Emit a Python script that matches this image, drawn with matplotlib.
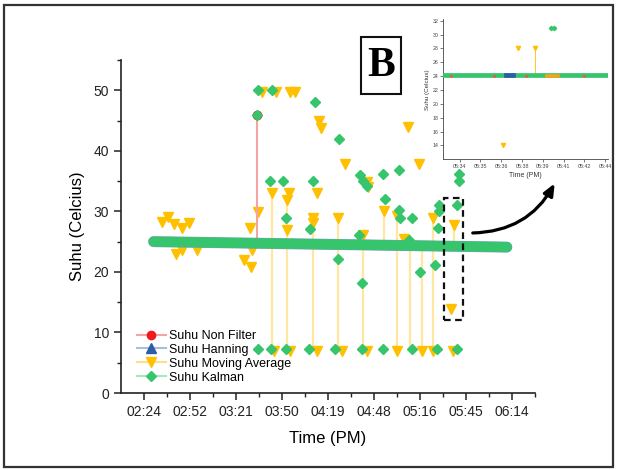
import matplotlib
matplotlib.use('Agg')
import matplotlib.pyplot as plt
from matplotlib.lines import Line2D
from matplotlib.patches import Rectangle

plt.rcParams['font.family'] = ['Liberation Sans', 'DejaVu Sans']

# time in hours (PM), temperature in Celcius
tick_pos = [2.40, 2.88, 3.36, 3.84, 4.32, 4.80, 5.28, 5.76, 6.24]
tick_lab = ['02:24', '02:52', '03:21', '03:50', '04:19', '04:48', '05:16', '05:45', '06:14']

# dense band (all filters overlap here)
band_x = [2.50, 6.185]
band_y = [25.0, 24.1]

# Suhu Non Filter spike
nf_x = [3.576]
nf_y = [45.9]

# Suhu Moving Average outliers
ma_x = [2.591, 2.654, 2.713, 2.800, 2.873, 2.731, 2.797, 2.950, 3.447, 3.513, 3.506, 3.593,
        3.524, 3.628, 3.777, 3.920, 3.970, 4.226, 4.247, 4.497, 3.733, 3.916, 3.889, 4.202,
        3.889, 4.167, 4.160, 4.428, 5.158, 5.273, 4.724, 4.741, 4.907, 5.043, 5.419, 5.638,
        4.682, 5.116, 5.604,
        3.757, 3.924, 4.208, 4.462, 4.723, 5.036, 5.297, 5.419, 5.627]
ma_y = [28.2, 29.1, 27.9, 27.3, 28.0, 22.9, 23.7, 23.7, 21.9, 20.8, 27.2, 29.9,
        23.6, 49.8, 49.8, 49.8, 49.8, 45.0, 43.8, 37.9, 33.0, 33.0, 31.8, 33.0,
        26.9, 28.9, 28.1, 28.9, 43.9, 37.9, 34.9, 34.0, 30.1, 29.2, 28.9, 27.8,
        26.1, 25.4, 13.8,
        7.0, 7.0, 7.0, 7.0, 7.0, 7.0, 7.0, 7.0, 7.0]

# vertical connecting lines of the moving average series
spike_x = [3.733, 3.889, 4.167, 4.428, 4.682, 4.907, 5.043, 5.171, 5.297, 5.419, 5.638]
spike_top = [33.0, 31.8, 28.9, 28.9, 26.1, 30.1, 29.2, 25.4, 24.5, 28.9, 27.8]
spike_bot = [7.0, 7.0, 7.0, 7.0, 7.0, 24.5, 7.0, 7.0, 7.0, 7.0, 24.3]

# Suhu Kalman outliers
ka_x = [3.582, 3.593, 3.733, 4.184, 4.438, 3.715, 3.847, 4.160, 3.882, 4.132, 4.421,
        4.654, 4.688, 4.724, 4.897, 5.058, 4.918, 5.064, 5.071, 5.193, 4.643, 5.478,
        5.478, 5.465, 5.663, 5.687, 5.687, 5.437, 5.280, 4.678, 5.165,
        3.586, 3.722, 3.882, 4.125, 4.393, 4.671, 4.897, 5.193, 5.454, 5.669]
ka_y = [45.9, 50.0, 50.0, 48.0, 42.0, 35.0, 35.0, 35.0, 28.9, 27.1, 22.1,
        36.0, 35.0, 34.2, 36.1, 36.9, 32.0, 30.2, 28.9, 28.9, 26.1, 31.1,
        30.0, 27.2, 31.0, 36.1, 35.0, 21.1, 20.0, 18.2, 25.2,
        7.3, 7.3, 7.3, 7.3, 7.3, 7.3, 7.3, 7.3, 7.3, 7.3]

# zoomed window shown in the inset
win_x0, win_x1, win_y0, win_y1 = 5.530, 5.732, 12.0, 32.2

# inset data
in_tick_pos = [5.568, 5.592, 5.616, 5.640, 5.664, 5.688, 5.712, 5.736]
in_tick_lab = ['05:34', '05:35', '05:36', '05:38', '05:39', '05:41', '05:42', '05:44']
in_band_x = [5.549, 5.739]
in_band_y = [24.2, 24.2]
in_han_x = [5.622, 5.629]
in_ma_band_x = [5.669, 5.682]
in_ma_x = [5.635, 5.655, 5.6175]
in_ma_y = [28.0, 28.0, 14.0]
in_ka_x = [5.673, 5.677]
in_ka_y = [31.0, 31.0]
in_nf_x = [5.558, 5.608, 5.645, 5.712]
in_nf_y = [24.0, 24.0, 24.0, 24.0]

RED, RED_L = '#ee1c1c', '#f5a3a3'
BLUE, BLUE_L = '#2c5ea8', '#aabde0'
YEL, YEL_L = '#ffc000', '#ffe08a'
GRN, GRN_L = '#36c46c', '#a8e6bf'

fig = plt.figure(figsize=(6.19, 4.70), dpi=100)
ax = fig.add_axes([0.1955, 0.1638, 0.669, 0.7085])

ax.vlines(spike_x, spike_bot, spike_top, color=YEL_L, lw=1.6, alpha=0.8, zorder=1)
ax.plot(ma_x, ma_y, ls='none', marker='v', ms=7.5, color=YEL, zorder=2)
ax.vlines(nf_x, [band_y[0]], nf_y, color=RED_L, lw=1.5, zorder=2)
ax.plot(nf_x, nf_y, ls='none', marker='o', ms=6, color=RED, zorder=2)
ax.plot(band_x, band_y, color='#7f9cc8', lw=7.9, solid_capstyle='round', zorder=3)
ax.plot(band_x, band_y, color=GRN, lw=7.3, solid_capstyle='round', zorder=4)
ax.plot(ka_x, ka_y, ls='none', marker='D', ms=5.6, color=GRN, zorder=5)

ax.add_patch(Rectangle((win_x0, win_y0), win_x1 - win_x0, win_y1 - win_y0, fill=False,
                       ls=(0, (3, 2)), lw=1.6, ec='#111', zorder=6))

ax.set_xlim(2.16, 6.48)
ax.set_ylim(0, 55)
ax.set_xticks(tick_pos)
ax.set_xticklabels(tick_lab)
ax.set_xticks([p + 0.24 for p in [2.16] + tick_pos], minor=True)
ax.set_yticks([0, 10, 20, 30, 40, 50])
ax.set_yticks([5, 15, 25, 35, 45, 55], minor=True)
for s in ['top', 'right']:
    ax.spines[s].set_visible(False)
for s in ['left', 'bottom']:
    ax.spines[s].set_color('#222')
    ax.spines[s].set_linewidth(1.2)
ax.tick_params(which='major', length=5, width=1.1, labelsize=10, colors='#222')
ax.tick_params(which='minor', length=3, width=1.0, colors='#222')
ax.set_ylabel('Suhu (Celcius)', fontsize=12, labelpad=6)
ax.set_xlabel('Time (PM)', fontsize=12, labelpad=9)

handles = [
    Line2D([], [], color=RED_L, marker='o', mfc=RED, mec=RED, ms=6),
    Line2D([], [], color=BLUE_L, marker='^', mfc=BLUE, mec=BLUE, ms=7),
    Line2D([], [], color=YEL_L, marker='v', mfc=YEL, mec=YEL, ms=7),
    Line2D([], [], color=GRN_L, marker='D', mfc=GRN, mec=GRN, ms=5.5),
]
labels = ['Suhu Non Filter', 'Suhu Hanning', 'Suhu Moving Average', 'Suhu Kalman']
ax.legend(handles, labels, loc='upper left', bbox_to_anchor=(0.032, 0.197), frameon=False,
          fontsize=9, handlelength=2.3, labelspacing=0.15, handletextpad=0.3,
          borderpad=0.2, borderaxespad=0)

# inset
ins = fig.add_axes([0.716, 0.661, 0.266, 0.298])
ins.plot(in_band_x, in_band_y, color=GRN, lw=3.4, zorder=3)
ins.plot(in_han_x, [24.2, 24.2], color=BLUE, lw=3.4, zorder=4)
ins.plot(in_ma_band_x, [24.05, 24.05], color='#f2a51c', lw=2.6, zorder=4)
ins.plot(in_nf_x, in_nf_y, ls='none', marker='o', ms=1.2, color='#e8603c', zorder=4)
ins.vlines([in_ma_x[1]], [24.2], [in_ma_y[1]], color=YEL, lw=0.6, zorder=2)
ins.plot(in_ma_x, in_ma_y, ls='none', marker='v', ms=3, color=YEL, zorder=5)
ins.plot(in_ka_x, in_ka_y, ls='none', marker='D', ms=2.2, color=GRN, zorder=5)
ins.set_xlim(5.549, 5.739)
ins.set_ylim(12.0, 32.2)
ins.set_xticks(in_tick_pos)
ins.set_xticklabels(in_tick_lab)
ins.set_yticks(range(14, 33, 2))
for s in ['top', 'right']:
    ins.spines[s].set_visible(False)
for s in ['left', 'bottom']:
    ins.spines[s].set_linewidth(0.6)
    ins.spines[s].set_color('#444')
ins.tick_params(length=2, width=0.5, labelsize=3.8, pad=1.5, colors='#444')
ins.set_ylabel('Suhu (Celcius)', fontsize=4.5, labelpad=2, color='#333')
ins.set_xlabel('Time (PM)', fontsize=5, labelpad=2, color='#333')

# "B" panel label
fig.patches.append(Rectangle((361 / 619, 1 - 94 / 470), 40 / 619, 57 / 470, fill=False,
                             lw=1.5, ec='#111', transform=fig.transFigure, figure=fig))
fig.text(381 / 619, 1 - 66 / 470, 'B', family='Liberation Serif', weight='bold',
         fontsize=30, ha='center', va='center')

# arrow from zoom window to inset
ax.annotate('', xy=(556 / 619, 1 - 181 / 470), xycoords='figure fraction',
            xytext=(470 / 619, 1 - 233 / 470), textcoords='figure fraction',
            arrowprops=dict(arrowstyle='-|>,head_length=0.7,head_width=0.3', lw=2.3,
                            color='black', connectionstyle='arc3,rad=0.3'))

# outer frame
fig.patches.append(Rectangle((4 / 619, 1 - 467 / 470), 609 / 619, 462 / 470, fill=False,
                             lw=1.6, ec='#333', transform=fig.transFigure, figure=fig))

fig.savefig('out.png', dpi=100)
